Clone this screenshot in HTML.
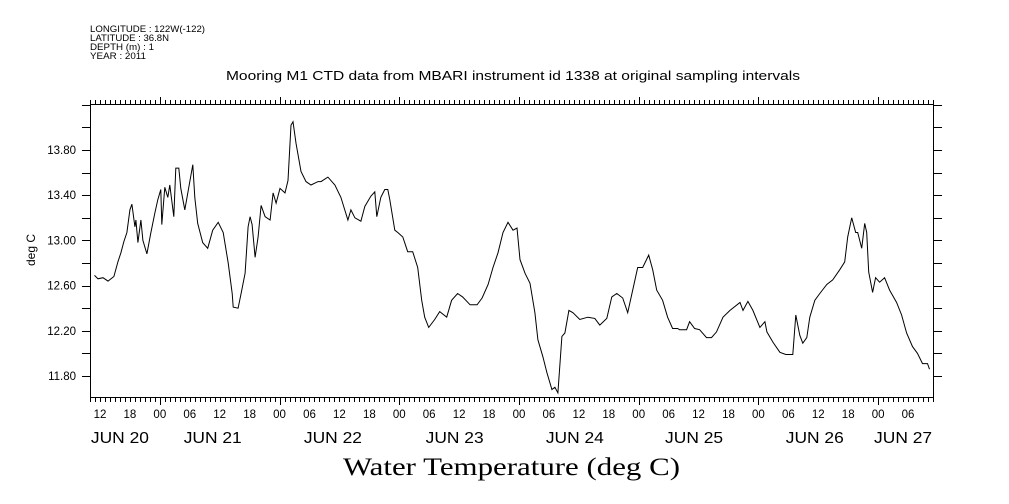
<!DOCTYPE html>
<html><head><meta charset="utf-8"><style>
html,body{margin:0;padding:0;background:#fff;}
svg{display:block;}
text{font-family:"Liberation Sans",sans-serif;fill:#000;}
</style></head><body>
<svg id="chart" width="1009" height="504" viewBox="0 0 1009 504" xmlns="http://www.w3.org/2000/svg">
<g font-size="9.5">
<text x="90" y="32" textLength="115" lengthAdjust="spacingAndGlyphs">LONGITUDE : 122W(-122)</text>
<text x="90" y="41" textLength="79" lengthAdjust="spacingAndGlyphs">LATITUDE : 36.8N</text>
<text x="90" y="50" textLength="64" lengthAdjust="spacingAndGlyphs">DEPTH (m) : 1</text>
<text x="90" y="59" textLength="56" lengthAdjust="spacingAndGlyphs">YEAR : 2011</text>
</g>
<text x="226" y="80" textLength="574" lengthAdjust="spacingAndGlyphs" font-size="13">Mooring M1 CTD data from MBARI instrument id 1338 at original sampling intervals</text>
<text x="343" y="475" textLength="337" lengthAdjust="spacingAndGlyphs" font-size="25" style="font-family:'Liberation Serif',serif">Water Temperature (deg C)</text>
<text transform="translate(35,250) rotate(-90)" text-anchor="middle" font-size="12">deg C</text>
<rect x="90.5" y="104.5" width="843" height="293" fill="none" stroke="#000" stroke-width="1"/>
<g id="axes"></g>
<g id="series"></g>
</svg>
<script>
const hours=[10.9,11.6,12.6,13.6,14.8,15.6,16.2,16.8,17.4,18.0,18.4,19.0,19.2,19.6,20.2,20.6,21.4,22.2,23.0,23.6,24.2,24.4,25.0,25.6,26.0,26.8,27.2,27.8,28.2,29.0,29.6,30.6,31.0,31.6,32.6,33.6,34.6,35.7,36.7,37.7,38.5,38.7,39.7,40.3,41.1,41.7,42.1,42.5,43.1,43.7,44.3,45.1,46.1,46.7,47.3,48.1,49.1,49.7,50.3,50.7,51.3,52.3,53.3,54.3,55.7,56.3,57.7,59.1,60.3,61.7,62.3,63.1,64.3,65.1,66.3,67.1,67.5,68.3,69.1,69.7,70.1,71.1,71.7,72.7,73.7,74.7,75.7,76.5,77.1,77.9,79.1,80.1,81.5,82.5,83.7,84.7,86.2,87.6,88.6,89.8,90.8,91.8,92.8,93.8,94.8,95.6,96.2,97.2,98.2,99.2,99.8,100.8,101.6,102.6,103.2,103.8,104.6,105.2,106.0,106.8,108.2,109.8,111.2,112.2,113.6,114.6,115.6,116.8,117.8,118.8,119.8,120.8,122.0,122.8,123.6,124.8,125.8,126.8,127.8,128.2,129.6,130.2,131.2,132.2,133.6,134.6,135.6,136.9,138.3,140.3,140.9,141.9,142.9,144.3,145.3,145.7,146.9,148.3,149.5,150.9,151.5,152.3,152.9,153.7,154.3,155.3,156.3,157.7,158.9,160.3,161.3,161.9,162.7,163.5,163.9,164.7,165.3,165.7,166.1,166.9,167.5,168.3,169.3,170.3,171.7,172.7,173.7,174.9,175.9,176.9,177.9,178.3];
const temps=[12.69,12.66,12.67,12.64,12.68,12.81,12.89,12.99,13.07,13.27,13.32,13.12,13.18,12.98,13.18,13.00,12.88,13.07,13.24,13.36,13.45,13.14,13.47,13.38,13.49,13.21,13.64,13.64,13.46,13.27,13.42,13.67,13.38,13.15,12.98,12.93,13.09,13.16,13.07,12.80,12.53,12.41,12.40,12.53,12.71,13.12,13.21,13.14,12.85,13.03,13.31,13.21,13.18,13.42,13.33,13.46,13.42,13.53,14.02,14.05,13.86,13.61,13.52,13.49,13.52,13.52,13.56,13.49,13.38,13.18,13.27,13.20,13.17,13.30,13.39,13.43,13.21,13.38,13.45,13.45,13.36,13.09,13.07,13.03,12.90,12.90,12.76,12.47,12.32,12.23,12.30,12.37,12.32,12.47,12.53,12.50,12.43,12.43,12.49,12.61,12.76,12.89,13.07,13.16,13.09,13.11,12.83,12.71,12.62,12.36,12.12,11.97,11.83,11.68,11.70,11.65,12.15,12.18,12.38,12.36,12.30,12.32,12.31,12.25,12.31,12.50,12.53,12.49,12.36,12.56,12.76,12.76,12.87,12.74,12.56,12.47,12.32,12.22,12.22,12.21,12.21,12.28,12.22,12.21,12.14,12.14,12.19,12.32,12.38,12.45,12.38,12.46,12.38,12.23,12.28,12.19,12.10,12.01,11.99,11.99,12.34,12.16,12.09,12.14,12.32,12.47,12.53,12.61,12.65,12.74,12.81,13.03,13.20,13.07,13.07,12.93,13.15,13.07,12.72,12.54,12.67,12.63,12.67,12.56,12.45,12.34,12.18,12.06,12.00,11.91,11.91,11.86];
const yTickLabels=["11.80","12.20","12.60","13.00","13.40","13.80"];
const hourLabels=["12","18","00","06"];
const dayLabels=["JUN 20","JUN 21","JUN 22","JUN 23","JUN 24","JUN 25","JUN 26","JUN 27"];
const dayLabelHours=[16,34.6,58.7,83.1,107.2,131.1,155.3,173];

const X0=90,X1=933,Y0=104,Y1=397,H0=10,H1=179,V0=11.614,V1=14.207;
function xs(h){return X0+(h-H0)*(X1-X0)/(H1-H0);}
function ys(v){return Y1-(v-V0)*(Y1-Y0)/(V1-V0);}
const NS='http://www.w3.org/2000/svg';
const axes=document.getElementById('axes');
function mk(tag,attrs,parent){const e=document.createElementNS(NS,tag);for(const k in attrs)e.setAttribute(k,attrs[k]);parent.appendChild(e);return e;}
let d='';
for(let h=H0;h<=H1;h++){
  const x=Math.round(xs(h))+0.5;const len=(h%24===0)?7:4;
  d+=`M${x} ${Y0}V${Y0-len}M${x} ${Y1+1}V${Y1+1+len}`;
}
for(let v=11.6;v<=14.21;v+=0.2){
  if(v<V0)continue;const y=Math.round(ys(v))+0.5;
  d+=`M${X0} ${y}H${X0-8}M${X1+1} ${y}H${X1+9}`;
}
const tk=mk('path',{d:d,stroke:'#000','stroke-width':1,fill:'none'},axes);


yTickLabels.forEach(s=>{
  const t=mk('text',{x:76,y:ys(parseFloat(s))+4,'text-anchor':'end','font-size':11.5},axes);
  t.textContent=s;
  
  
});
for(let h=12;h<=H1;h+=6){
  const t=mk('text',{x:xs(h),y:418,'text-anchor':'middle','font-size':11.5},axes);
  t.textContent=hourLabels[(h/6)%4===2?0:(h/6)%4===3?1:(h/6)%4===0?2:3];
  
  
}
dayLabels.forEach((s,i)=>{
  const t=mk('text',{x:xs(dayLabelHours[i])-29,y:443,'font-size':16,textLength:58,lengthAdjust:'spacingAndGlyphs'},axes);
  t.textContent=s;
  
  
});
const pts=hours.map((h,i)=>xs(h).toFixed(1)+','+ys(temps[i]).toFixed(1)).join(' ');
const line=mk('polyline',{points:pts,fill:'none',stroke:'#000','stroke-width':1},document.getElementById('series'));


</script>
</body></html>
